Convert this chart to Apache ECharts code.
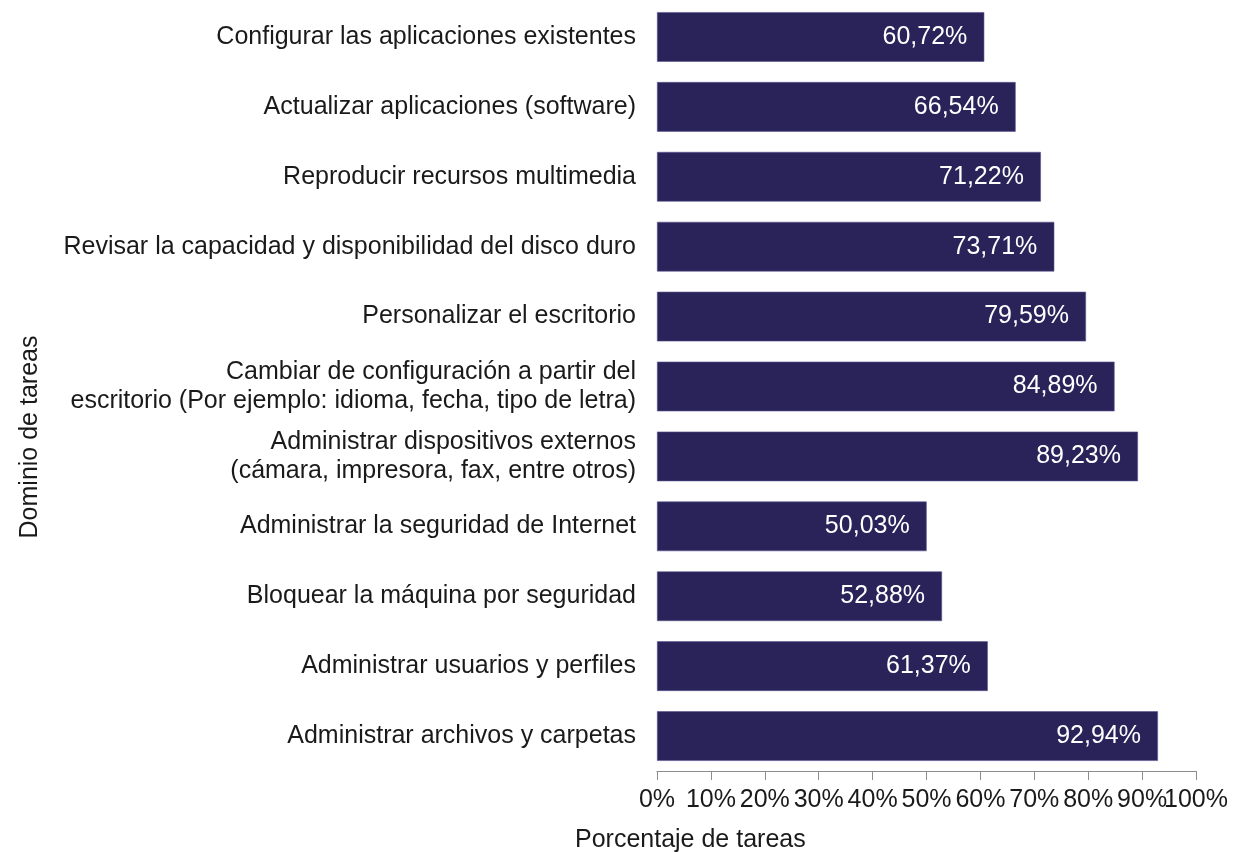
<!DOCTYPE html>
<html>
<head>
<meta charset="utf-8">
<script src="https://cdn.jsdelivr.net/npm/echarts@6/dist/echarts.min.js"></script>
<style>
html,body{margin:0;padding:0;background:#fff;}
#chart{width:1239px;height:852px;}
</style>
</head>
<body>
<div id="chart"></div>
<script>
// Task domains, listed top to bottom
const categories = [
  'Configurar las aplicaciones existentes',
  'Actualizar aplicaciones (software)',
  'Reproducir recursos multimedia',
  'Revisar la capacidad y disponibilidad del disco duro',
  'Personalizar el escritorio',
  'Cambiar de configuración a partir del\nescritorio (Por ejemplo: idioma, fecha, tipo de letra)',
  'Administrar dispositivos externos\n(cámara, impresora, fax, entre otros)',
  'Administrar la seguridad de Internet',
  'Bloquear la máquina por seguridad',
  'Administrar usuarios y perfiles',
  'Administrar archivos y carpetas'
];
// Share of tasks mastered (%)
const values = [60.72, 66.54, 71.22, 73.71, 79.59, 84.89, 89.23, 50.03, 52.88, 61.37, 92.94];
const xTicks = [0, 10, 20, 30, 40, 50, 60, 70, 80, 90, 100];

const font = 'Liberation Sans, Arial, sans-serif';
const fs = 25;
const xMin = xTicks[0], xMax = xTicks[xTicks.length - 1];
const tickLabel = { color: '#1a1a1a', fontSize: fs, fontFamily: font, margin: 17, hideOverlap: false };
const tickStyle = { show: true, length: 9, lineStyle: { color: '#8c8c8c' } };

const chart = echarts.init(document.getElementById('chart'));
chart.setOption({
  animation: false,
  grid: { left: 657, right: 43, top: 2, bottom: 81 },
  xAxis: [{
    type: 'value', min: xMin, max: xMax, interval: 10,
    splitLine: { show: false },
    axisLine: { show: true, lineStyle: { color: '#8c8c8c', width: 1 } },
    axisTick: tickStyle,
    axisLabel: Object.assign({ formatter: '{value}%', showMinLabel: true, showMaxLabel: false }, tickLabel)
  }, {
    // companion axis that only writes the end label, which touches its neighbour
    type: 'value', position: 'bottom', min: xMin, max: xMax, interval: 10,
    splitLine: { show: false }, axisLine: { show: false }, axisTick: tickStyle,
    axisLabel: Object.assign({ formatter: v => (v === xMax ? v + '%' : ''), showMaxLabel: true }, tickLabel)
  }],
  yAxis: {
    type: 'category', data: categories, inverse: true,
    axisLine: { show: false }, axisTick: { show: false },
    axisLabel: { color: '#1a1a1a', fontSize: fs, fontFamily: font, margin: 21, lineHeight: 29, align: 'right' }
  },
  series: [{
    type: 'bar', data: values, barCategoryGap: '29%', xAxisIndex: 0,
    itemStyle: { color: '#29235a', borderColor: '#5a5590', borderWidth: 0.6 },
    label: {
      show: true, position: 'insideRight', distance: 17,
      color: '#ffffff', fontSize: fs, fontFamily: font,
      formatter: p => p.value.toFixed(2).replace('.', ',') + '%'
    }
  }],
  graphic: [
    { type: 'text', left: 575, top: 828, style: { text: 'Porcentaje de tareas', fill: '#1a1a1a', font: fs + 'px ' + font } },
    { type: 'text', x: 30, y: 437, rotation: Math.PI / 2,
      style: { text: 'Dominio de tareas', fill: '#1a1a1a', font: fs + 'px ' + font, align: 'center', verticalAlign: 'middle' } }
  ]
});
</script>
</body>
</html>
